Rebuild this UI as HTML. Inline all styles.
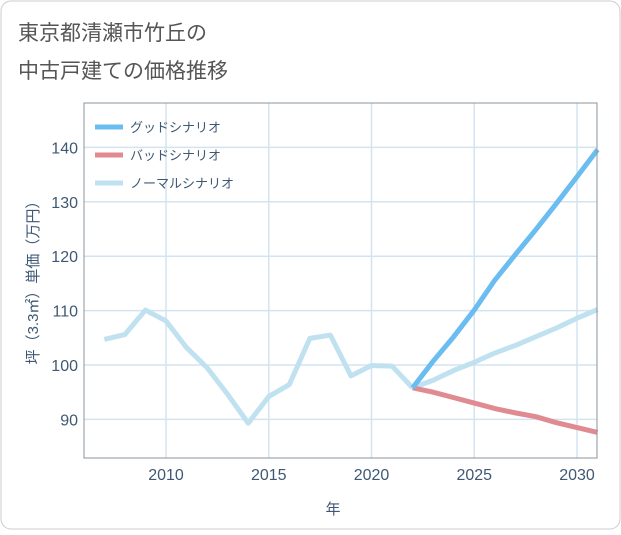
<!DOCTYPE html>
<html><head><meta charset="utf-8"><style>
body{margin:0;background:#fff;font-family:"Liberation Sans","Noto Sans CJK JP",sans-serif}
#wrap{position:relative;width:621px;height:530px}
</style></head><body>
<div id="wrap">
<svg id="chart" width="621" height="530" xmlns="http://www.w3.org/2000/svg">
<rect x="1" y="1" width="619" height="528" rx="10" fill="#fff" stroke="#ccc"/>
<text x="18" y="40" font-size="21" fill="#555">東京都清瀬市竹丘の</text>
<text x="18" y="78" font-size="21" fill="#555">中古戸建ての価格推移</text>
<g id="grid"></g><g id="series"></g><g id="axes"></g>
<text x="333" y="514" font-size="15" fill="#3f5873" text-anchor="middle">年</text>
<text transform="translate(38,279) rotate(-90)" font-size="15" fill="#3f5873" text-anchor="middle">坪（3.3㎡）単価（万円）</text>
<g>
<line x1="95" y1="127" x2="123" y2="127" stroke="#6bbcf0" stroke-width="5"/>
<text x="130" y="132" font-size="13" fill="#3f5873">グッドシナリオ</text>
<line x1="95" y1="155" x2="123" y2="155" stroke="#e08a92" stroke-width="5"/>
<text x="130" y="160" font-size="13" fill="#3f5873">バッドシナリオ</text>
<line x1="95" y1="183" x2="123" y2="183" stroke="#bfe1f0" stroke-width="5"/>
<text x="130" y="188" font-size="13" fill="#3f5873">ノーマルシナリオ</text>
</g>
</svg></div>
<script>
const histYears=[2007,2008,2009,2010,2011,2012,2013,2014,2015,2016,2017,2018,2019,2020,2021,2022];
const histValues=[104.7,105.6,110.1,108.1,103.2,99.5,94.6,89.3,94.2,96.4,104.9,105.5,98.0,99.9,99.8,95.8];
const fcYears=[2022,2023,2024,2025,2026,2027,2028,2029,2030,2031];
const goodValues=[95.8,100.7,105.2,110.1,115.6,120.3,124.9,129.7,134.6,139.6];
const badValues=[95.8,95.0,94.0,93.0,92.0,91.2,90.5,89.4,88.5,87.6];
const normalValues=[95.8,97.2,99.0,100.5,102.2,103.6,105.2,106.8,108.6,110.2];
const xTicks=[2010,2015,2020,2025,2030];
const yTicks=[90,100,110,120,130,140];
const L=84,R=597,T=103,B=458;
const xs=y=>166+(y-2010)*20.55;
const ys=v=>365-(v-100)*5.44;
const NS="http://www.w3.org/2000/svg";
function mk(p,t,a){const e=document.createElementNS(NS,t);for(const k in a)e.setAttribute(k,a[k]);p.appendChild(e);return e;}
const grid=document.getElementById('grid'),axes=document.getElementById('axes'),ser=document.getElementById('series');
xTicks.forEach(y=>{const l=mk(grid,'line',{x1:xs(y),x2:xs(y),y1:T,y2:B,stroke:'#d3e4f0','stroke-width':1.5});

});
yTicks.forEach(v=>{const yy=ys(v);const l=mk(grid,'line',{x1:L,x2:R,y1:yy,y2:yy,stroke:'#d3e4f0','stroke-width':1.5});

});
const fr=mk(axes,'rect',{x:L,y:T,width:R-L,height:B-T,fill:'none',stroke:'#8a949e','stroke-width':1});


xTicks.forEach(t=>{const e=mk(axes,'text',{x:xs(t),y:480,'font-size':16,fill:'#3f5873','text-anchor':'middle'});e.textContent=t;

});
yTicks.forEach(t=>{const e=mk(axes,'text',{x:78,y:ys(t)+6,'font-size':16,fill:'#3f5873','text-anchor':'end'});e.textContent=t;

});
function line(xa,va,c,n){const d=xa.map((x,i)=>(i?'L':'M')+xs(Math.min(x,2031))+','+ys(va[i])).join(' ');
const p=mk(ser,'path',{d:d,fill:'none',stroke:c,'stroke-width':5,'stroke-linejoin':'round'});

}
line(histYears,histValues,'#bfe1f0','series-history');
line(fcYears,normalValues,'#bfe1f0','series-normal');
line(fcYears,badValues,'#e08a92','series-bad');
line(fcYears,goodValues,'#6bbcf0','series-good');
</script>
</body></html>
